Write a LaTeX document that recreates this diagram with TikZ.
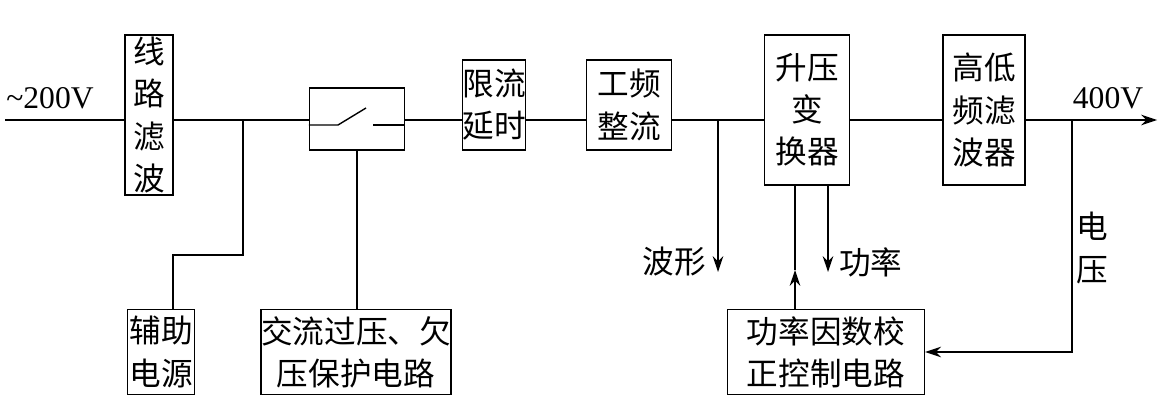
\documentclass[tikz,border=0pt]{standalone}
\usepackage{fontspec}
\setmainfont{Liberation Serif}
\newfontfamily\cjk{Noto Sans CJK SC}
\usetikzlibrary{arrows.meta}
\begin{document}
\begin{tikzpicture}[x=0.02cm,y=-0.02cm,
  blk/.style={draw,thick,align=center,inner sep=0pt,font=\cjk\fontsize{18}{24}\selectfont},
  wire/.style={thick},
  arr/.style={thick,-{Stealth[length=9pt,width=6pt]}},
  lbl/.style={font=\cjk\fontsize{18}{24}\selectfont}]
\useasboundingbox (0,0) rectangle (1159,405);
% Blocks
\node[blk,minimum width=0.96cm,minimum height=3.2cm] (lvbo) at (149,115) {线\\路\\滤\\波};
\node[draw,thick,minimum width=1.9cm,minimum height=1.24cm] (kg) at (357,119) {};
\node[blk,minimum width=1.24cm,minimum height=1.8cm] (xl) at (494,105) {限流\\延时};
\node[blk,minimum width=1.7cm,minimum height=1.8cm] (zl) at (629,105) {工频\\整流};
\node[blk,minimum width=1.7cm,minimum height=3cm] (sy) at (807,110) {升压\\变\\换器};
\node[blk,minimum width=1.64cm,minimum height=3cm] (gd) at (984,110) {高低\\频滤\\波器};
\node[blk,minimum width=1.34cm,minimum height=1.7cm] (fz) at (161,352) {辅助\\电源};
\node[blk,minimum width=3.54cm,minimum height=1.7cm] (bh) at (356,352) {交流过压、欠\\压保护电路};
\node[blk,minimum width=3.94cm,minimum height=1.7cm] (pf) at (826,352) {功率因数校\\正控制电路};
% Switch
\draw[wire] (kg.west |- 0,125) -- (338,125) -- (366,108);
\draw[wire] (373,125) -- (kg.east |- 0,125);
% Main line
\coordinate (in) at (5,120);
\coordinate (out) at (1157,120);
\coordinate (b1) at (243,120);
\coordinate (b2) at (718,120);
\coordinate (b3) at (1072,120);
\draw[wire] (in) -- (lvbo.west |- in);
\draw[wire] (lvbo.east |- in) -- (kg.west |- in);
\draw[wire] (kg.east |- in) -- (xl.west |- in);
\draw[wire] (xl.east |- in) -- (zl.west |- in);
\draw[wire] (zl.east |- in) -- (sy.west |- in);
\draw[wire] (sy.east |- in) -- (gd.west |- in);
\draw[arr] (gd.east |- in) -- (out);
\node[font=\fontsize{18}{24}\selectfont] (vin) at (50,98) {\textasciitilde200V};
\node[font=\fontsize{18}{24}\selectfont] (vout) at (1108,98) {400V};
% Branches
\draw[wire] (b1) |- (173,255) -- (fz.north -| 173,0);
\draw[wire] (kg.south) -- (bh.north -| kg.south);
\coordinate (wf) at (718,272);
\draw[arr] (b2) -- (wf);
\node[lbl,anchor=east] (bx) at (712,262) {波形};
\coordinate (p1) at (795,270);
\coordinate (p2) at (828,272);
\draw[arr] (pf.north -| p1) -- (p1);
\draw[wire] (p1) -- (sy.south -| p1);
\draw[arr] (sy.south -| p2) -- (p2);
\node[lbl,anchor=west] (gl) at (833,262) {功率};
\draw[arr] (b3) |- (pf.east |- 0,352);
\node[lbl,align=center] (dy) at (1092,248) {电\\压};
\end{tikzpicture}
\end{document}
